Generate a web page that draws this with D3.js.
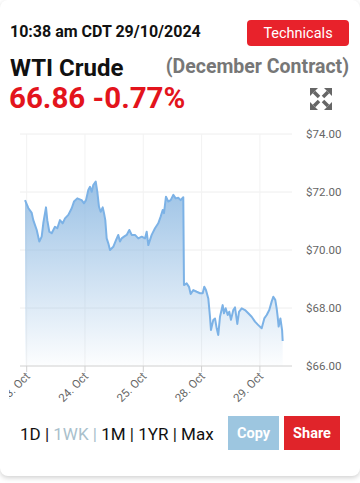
<!DOCTYPE html>
<html>
<head>
<meta charset="utf-8">
<script src="https://cdn.jsdelivr.net/npm/d3@7"></script>
<style>
  html, body { margin: 0; padding: 0; background: #fff; }
  body { width: 360px; height: 483px; overflow: hidden; font-family: Roboto, "Helvetica Neue", Arial, sans-serif; }
  #card { position: absolute; left: 0; top: 0; width: 360px; height: 476px; border-radius: 8px;
          box-shadow: 0 2px 5px rgba(0,0,0,0.18); background: #fff; }
  svg { position: absolute; left: 0; top: 0; }
</style>
</head>
<body>
<div id="card"></div>
<div id="chart"></div>
<script>
// trading-day position (ordinal axis, 1 = 23 Oct) and price
const dayPos = [0.971, 1.027, 1.086, 1.113, 1.172, 1.216, 1.257, 1.285, 1.331, 1.353,
  1.388, 1.429, 1.485, 1.525, 1.571, 1.617, 1.657, 1.714, 1.772, 1.811,
  1.868, 1.943, 1.983, 2.017, 2.057, 2.086, 2.115, 2.142, 2.184, 2.211,
  2.240, 2.269, 2.304, 2.326, 2.348, 2.372, 2.400, 2.429, 2.485, 2.532,
  2.571, 2.600, 2.629, 2.669, 2.715, 2.760, 2.801, 2.858, 2.914, 2.973,
  3.029, 3.058, 3.086, 3.144, 3.201, 3.257, 3.298, 3.333, 3.355, 3.389,
  3.429, 3.470, 3.515, 3.556, 3.600, 3.641, 3.686, 3.698, 3.744, 3.784,
  3.813, 3.858, 3.916, 3.973, 4.019, 4.046, 4.075, 4.115, 4.144, 4.161,
  4.201, 4.230, 4.259, 4.286, 4.316, 4.362, 4.384, 4.413, 4.448, 4.475,
  4.504, 4.544, 4.573, 4.613, 4.642, 4.688, 4.745, 4.801, 4.859, 4.916,
  4.973, 5.031, 5.076, 5.117, 5.161, 5.202, 5.230, 5.264, 5.288, 5.305,
  5.322, 5.352, 5.381, 5.391];
const prices = [71.72, 71.45, 71.28, 71.03, 70.69, 70.29, 70.46, 70.93, 71.47, 71.03,
  70.63, 70.58, 70.80, 70.75, 71.03, 70.92, 71.09, 71.21, 71.44, 71.67,
  71.78, 71.72, 71.61, 71.72, 72.07, 72.18, 72.01, 72.24, 72.36, 72.01,
  71.49, 71.32, 71.47, 71.27, 71.03, 70.40, 70.23, 70.00, 70.11, 70.34,
  70.52, 70.29, 70.40, 70.46, 70.52, 70.69, 70.52, 70.52, 70.40, 70.46,
  70.40, 70.63, 70.17, 70.52, 70.75, 70.92, 71.15, 71.38, 71.27, 71.84,
  71.67, 71.72, 71.90, 71.78, 71.80, 71.72, 71.82, 68.79, 68.85, 68.73,
  68.48, 68.62, 68.56, 68.51, 68.51, 68.73, 68.62, 68.33, 67.70, 67.24,
  67.59, 67.64, 67.30, 67.07, 67.70, 68.10, 67.82, 67.99, 67.76, 67.87,
  67.59, 67.93, 68.02, 67.45, 67.87, 67.99, 67.93, 67.82, 67.70, 67.53,
  67.41, 67.30, 67.64, 67.76, 67.93, 68.22, 68.39, 68.28, 67.99, 67.70,
  67.36, 67.64, 67.24, 66.86];

const dayTicks = [1, 2, 3, 4, 5];
const dayLabels = ["23. Oct", "24. Oct", "25. Oct", "28. Oct", "29. Oct"];
const priceTicks = [66, 68, 70, 72, 74];
const ranges = ["1D", "1WK", "1M", "1YR", "Max"];
const activeRange = "1WK";

const data = dayPos.map((d, i) => ({ d: d, p: prices[i] }));

const W = 360, H = 483;
const svg = d3.select("#chart").append("svg").attr("width", W).attr("height", H);

// ---- header
svg.append("text").attr("x", 10).attr("y", 37)
  .attr("font-size", 16).attr("font-weight", 700).attr("fill", "#111")
  .text("10:38 am CDT 29/10/2024");

svg.append("rect").attr("x", 247).attr("y", 20).attr("width", 102).attr("height", 26)
  .attr("rx", 4).attr("fill", "#e8222b");
svg.append("text").attr("x", 298).attr("y", 38).attr("text-anchor", "middle")
  .attr("font-size", 14.5).attr("fill", "#fff").text("Technicals");

svg.append("text").attr("x", 10).attr("y", 76)
  .attr("font-size", 24).attr("font-weight", 700).attr("fill", "#111")
  .text("WTI Crude");
svg.append("text").attr("x", 349).attr("y", 73).attr("text-anchor", "end")
  .attr("font-size", 19.5).attr("font-weight", 700).attr("fill", "#777")
  .text("(December Contract)");

svg.append("text").attr("x", 9).attr("y", 108)
  .attr("font-size", 29.5).attr("font-weight", 700).attr("fill", "#e3141c")
  .text("66.86 -0.77%");

// expand icon
const icon = svg.append("g").attr("transform", "translate(321,99)").attr("fill", "#666").attr("stroke", "#666");
[[-1, -1], [1, -1], [-1, 1], [1, 1]].forEach(([sx, sy]) => {
  icon.append("path").attr("stroke", "none")
    .attr("d", `M${sx * 11},${sy * 11} L${sx * 3},${sy * 11} L${sx * 11},${sy * 3} Z`);
  icon.append("line").attr("stroke-width", 3.5)
    .attr("x1", sx * 2).attr("y1", sy * 2).attr("x2", sx * 7).attr("y2", sy * 7);
});

// ---- chart
const x = d3.scaleLinear().domain([0.885, 5.551]).range([20, 292]);
const y = d3.scaleLinear().domain([66, 74]).range([366, 134]);

const grid = svg.append("g");
grid.selectAll(".hg").data(priceTicks.filter(t => t !== 66)).join("line")
  .attr("x1", 20).attr("x2", 292)
  .attr("y1", d => y(d)).attr("y2", d => y(d))
  .attr("stroke", "#eeeeee").attr("stroke-width", 1);
grid.selectAll(".vg").data(dayTicks).join("line")
  .attr("x1", d => x(d)).attr("x2", d => x(d))
  .attr("y1", y(74)).attr("y2", y(66))
  .attr("stroke", "#f2f2f2").attr("stroke-width", 1);

const defs = svg.append("defs");
const grad = defs.append("linearGradient").attr("id", "fillGrad")
  .attr("gradientUnits", "userSpaceOnUse")
  .attr("x1", 0).attr("x2", 0).attr("y1", y(72.4)).attr("y2", y(66));
grad.append("stop").attr("offset", 0).attr("stop-color", "#8fbae2").attr("stop-opacity", 0.9);
grad.append("stop").attr("offset", 1).attr("stop-color", "#8fbae2").attr("stop-opacity", 0.02);

svg.append("path").datum(data)
  .attr("fill", "url(#fillGrad)")
  .attr("d", d3.area().x(d => x(d.d)).y0(y(66)).y1(d => y(d.p)));

svg.append("path").datum(data)
  .attr("fill", "none").attr("stroke", "#7cb2e6").attr("stroke-width", 2)
  .attr("stroke-linejoin", "round")
  .attr("d", d3.line().x(d => x(d.d)).y(d => y(d.p)));

// x axis
svg.append("line").attr("x1", 20).attr("x2", 292).attr("y1", y(66)).attr("y2", y(66))
  .attr("stroke", "#d0d0d0");
svg.selectAll(".xt").data(dayTicks).join("line")
  .attr("x1", d => x(d)).attr("x2", d => x(d))
  .attr("y1", y(66)).attr("y2", y(66) + 6)
  .attr("stroke", "#d0d0d0");

defs.append("clipPath").attr("id", "labClip").append("rect")
  .attr("x", 9).attr("y", 360).attr("width", 300).attr("height", 60);
svg.append("g").attr("clip-path", "url(#labClip)")
  .selectAll("text").data(dayTicks).join("text")
  .attr("transform", d => `translate(${x(d) + 4},${y(66) + 11}) rotate(-45)`)
  .attr("text-anchor", "end").attr("font-size", 11.5).attr("fill", "#666")
  .text((d, i) => dayLabels[i]);

// y axis labels
svg.selectAll(".yl").data(priceTicks).join("text")
  .attr("x", 306).attr("y", d => y(d) + 4)
  .attr("font-size", 11.5).attr("fill", "#666")
  .text(d => "$" + d3.format(".2f")(d));

// ---- bottom controls
const rangeText = svg.append("text").attr("x", 20).attr("y", 440)
  .attr("font-size", 17).attr("fill", "#111");
ranges.forEach((r, i) => {
  const active = r === activeRange;
  rangeText.append("tspan").attr("fill", active ? "#a9bfcc" : "#111").text(r);
  if (i < ranges.length - 1)
    rangeText.append("tspan").attr("fill", active ? "#a9bfcc" : "#111").text(" | ");
});

svg.append("rect").attr("x", 228).attr("y", 416).attr("width", 51).attr("height", 34)
  .attr("fill", "#9dc6e0");
svg.append("text").attr("x", 253.5).attr("y", 438).attr("text-anchor", "middle")
  .attr("font-size", 14.5).attr("font-weight", 700).attr("fill", "#fff").text("Copy");
svg.append("rect").attr("x", 284).attr("y", 416).attr("width", 56).attr("height", 34)
  .attr("fill", "#e0242a");
svg.append("text").attr("x", 312).attr("y", 438).attr("text-anchor", "middle")
  .attr("font-size", 14.5).attr("font-weight", 700).attr("fill", "#fff").text("Share");
</script>
</body>
</html>
